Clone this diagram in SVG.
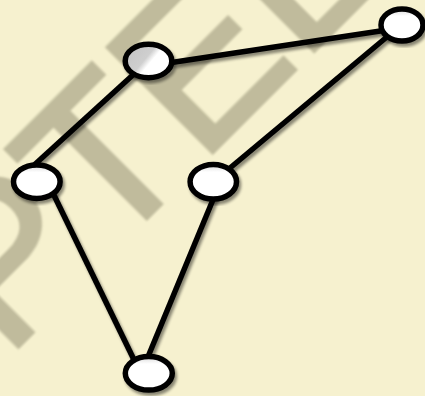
<svg xmlns="http://www.w3.org/2000/svg" width="425" height="396" viewBox="0 0 425 396">
<style>
.wm{font-family:"Liberation Sans",Arial,sans-serif;font-size:215px;fill:#c0bb9c;stroke:#c0bb9c;stroke-width:4;stroke-linejoin:miter}
.edge{stroke:#000;stroke-width:5.5;fill:none;stroke-linecap:butt}
.node{stroke:#000;stroke-width:5.5}
</style>
<defs>
<filter id="soft" x="-5%" y="-5%" width="110%" height="110%"><feGaussianBlur stdDeviation="1.2"/></filter>
<filter id="shadow" x="-20%" y="-20%" width="140%" height="140%">
<feGaussianBlur in="SourceAlpha" stdDeviation="1.6"/>
<feOffset dx="2" dy="2.5" result="b"/>
<feComponentTransfer><feFuncA type="linear" slope="0.45"/></feComponentTransfer>
<feMerge><feMergeNode/><feMergeNode in="SourceGraphic"/></feMerge>
</filter>
<linearGradient id="gA" x1="0" y1="0.2" x2="1" y2="0.8">
<stop offset="0" stop-color="#c4c4c4"/>
<stop offset="0.42" stop-color="#cfcfcf"/>
<stop offset="0.55" stop-color="#ffffff"/>
<stop offset="1" stop-color="#ffffff"/>
</linearGradient>
<linearGradient id="gN" x1="0" y1="0" x2="0" y2="1">
<stop offset="0" stop-color="#d8d8d8"/>
<stop offset="0.22" stop-color="#ffffff"/>
<stop offset="1" stop-color="#ffffff"/>
</linearGradient>
</defs>
<rect width="425" height="396" fill="#f6f1cf"/>
<text class="wm" filter="url(#soft)" transform="translate(6,359) rotate(-45)">PTEL</text>
<g id="connectors" filter="url(#shadow)">
<line class="edge" x1="165" y1="63.5" x2="392" y2="29.3"/>
<line class="edge" x1="140" y1="68.5" x2="32" y2="167"/>
<line class="edge" x1="394" y1="31" x2="224" y2="173"/>
<line class="edge" x1="50" y1="187" x2="137" y2="366"/>
<line class="edge" x1="217" y1="190" x2="145" y2="364"/>
</g>
<g id="nA" filter="url(#shadow)"><ellipse class="node" cx="148.5" cy="61" rx="23.3" ry="16.8" fill="url(#gA)"/></g>
<g id="nB" filter="url(#shadow)"><ellipse class="node" cx="402" cy="25" rx="21" ry="16" fill="url(#gN)"/></g>
<g id="nC" filter="url(#shadow)"><ellipse class="node" cx="36.8" cy="181.7" rx="23.3" ry="16.8" fill="url(#gN)"/></g>
<g id="nD" filter="url(#shadow)"><ellipse class="node" cx="213.3" cy="181.7" rx="23.2" ry="17.3" fill="url(#gN)"/></g>
<g id="nE" filter="url(#shadow)"><ellipse class="node" cx="148.8" cy="373.3" rx="23.5" ry="16.8" fill="url(#gN)"/></g>
</svg>
